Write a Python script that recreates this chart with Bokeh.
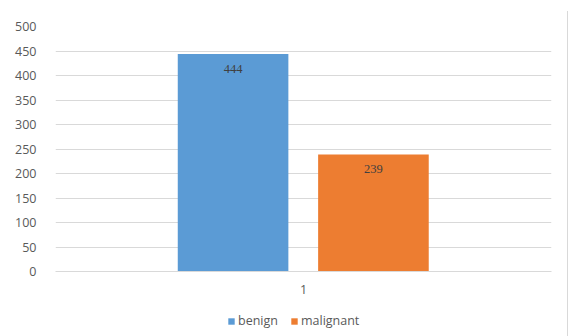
from bokeh.plotting import figure
from bokeh.layouts import column
from bokeh.models import ColumnDataSource, LabelSet, Legend, LegendItem, Range1d, FactorRange
from bokeh.transform import dodge
from bokeh.embed import file_html
from bokeh.resources import INLINE

categories = ["1"]
series = ["benign", "malignant"]
benign = [444]
malignant = [239]
y_ticks = [0, 50, 100, 150, 200, 250, 300, 350, 400, 450, 500]

colors = {"benign": "#5B9BD5", "malignant": "#ED7D31"}
offsets = {"benign": -0.142, "malignant": 0.141}
values = {"benign": benign, "malignant": malignant}
FONT = "Open Sans"
GRID = "#D9D9D9"
BG = "linear-gradient(#D9D9D9,#D9D9D9) no-repeat 567px {top}px / 1px {h}px"

# main bar chart
p = figure(
    width=571, height=300,
    x_range=FactorRange(*categories), y_range=Range1d(0, 500),
    output_backend="svg", toolbar_location=None,
    min_border_left=55, min_border_right=20,
    min_border_top=26, min_border_bottom=29,
)
p.background_fill_color = None
p.border_fill_color = None
p.outline_line_color = None
p.styles = {"background": BG.format(top=11, h=289)}

for name in series:
    vals = values[name]
    src = ColumnDataSource(dict(cat=categories, val=vals, txt=[str(v) for v in vals]))
    p.vbar(
        x=dodge("cat", offsets[name], range=p.x_range), top="val", width=0.223,
        source=src, fill_color=colors[name], line_color=None,
    )
    p.add_layout(LabelSet(
        x=dodge("cat", offsets[name], range=p.x_range), y="val", text="txt",
        source=src, y_offset=-15, text_align="center", text_baseline="middle",
        text_font=FONT, text_font_size="12.5px", text_color="#404040",
    ))

p.yaxis.ticker = y_ticks
p.yaxis.axis_line_color = None
p.yaxis.major_tick_line_color = None
p.yaxis.minor_tick_line_color = None
p.yaxis.major_label_standoff = 13
p.yaxis.major_label_text_font = FONT
p.yaxis.major_label_text_font_size = "12.5px"
p.yaxis.major_label_text_color = "#595959"

p.xaxis.axis_line_color = GRID
p.xaxis.major_tick_line_color = None
p.xaxis.minor_tick_line_color = None
p.xaxis.major_label_standoff = 7
p.xaxis.major_label_text_font = FONT
p.xaxis.major_label_text_font_size = "12.5px"
p.xaxis.major_label_text_color = "#595959"

p.xgrid.grid_line_color = None
p.ygrid.grid_line_color = GRID

# legend strip underneath the chart; its bars sit outside the visible range
lg = figure(
    width=571, height=36,
    x_range=p.x_range, y_range=Range1d(1000, 1001),
    output_backend="svg", toolbar_location=None,
    min_border=0,
)
lg.axis.visible = False
lg.grid.visible = False
lg.background_fill_color = None
lg.border_fill_color = None
lg.outline_line_color = None
lg.styles = {"background": BG.format(top=0, h=36)}

items = []
for name in series:
    src = ColumnDataSource(dict(cat=categories, val=values[name]))
    r = lg.vbar(
        x=dodge("cat", offsets[name], range=lg.x_range), top="val", width=0.223,
        source=src, fill_color=colors[name], line_color=None,
    )
    items.append(LegendItem(label=name, renderers=[r]))

legend = Legend(
    items=items, orientation="horizontal", location=(172, 7),
    glyph_width=8, glyph_height=8, label_standoff=3, spacing=12,
    padding=0, margin=0, border_line_color=None, background_fill_alpha=0,
    label_text_font=FONT, label_text_font_size="12.5px", label_text_color="#595959",
    label_height=8,
)
lg.add_layout(legend, "center")

open("out.html", "w").write(file_html(column(p, lg, spacing=0), INLINE))
